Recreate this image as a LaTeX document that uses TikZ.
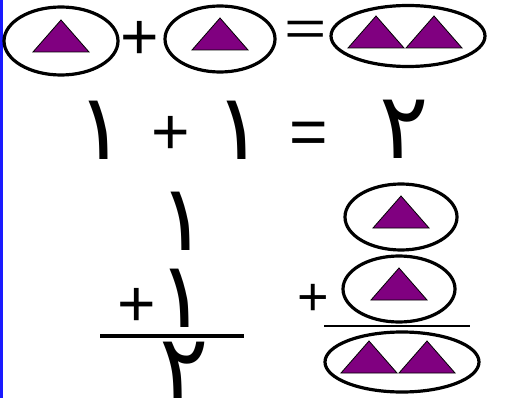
\documentclass[tikz,border=0pt]{standalone}
\usepackage{fontspec}
\setmainfont{Liberation Sans}
\newfontfamily\arabicfont[Script=Arabic]{DejaVu Sans}
\TeXXeTstate=1
\usepackage{xcolor}
\definecolor{SetPurple}{HTML}{800080}
\definecolor{SetEdge}{HTML}{1A1AFF}
\usetikzlibrary{shapes.geometric}

\begin{document}
\begin{tikzpicture}[
  x=1pt,y=-1pt,
  bag/.style={ellipse,draw,line width=3.2pt,inner sep=0pt,minimum width=112pt,minimum height=66pt},
  pair/.style={bag,minimum width=154pt,minimum height=61pt},
  digit/.style={inner sep=0pt,font=\arabicfont\fontsize{92}{98}\selectfont},
  sign/.style={inner sep=0pt,font=\fontsize{66}{72}\selectfont},
  small sign/.style={inner sep=0pt,font=\fontsize{54}{60}\selectfont},
  tri/.pic={\draw[fill=SetPurple,line width=0.8pt] (-28,0) -- (0,-32) -- (28,0) -- cycle;}
]
  \useasboundingbox (0,0) rectangle (516,398);
  \fill[SetEdge] (0,0) rectangle (2.5,398);
  % top row
  \node[bag,minimum width=114pt,minimum height=68pt] (e1) at (61,41) {};
  \node[sign] (plus1) at (140,40) {+};
  \node[bag,minimum width=110pt] (e2) at (220,39) {};
  \node[sign,transform shape,xscale=1.1,yscale=0.75] (eq1) at (306,33) {=};
  \node[pair] (e3) at (408,36) {};
  \pic at ([yshift=-11pt]e1.center) {tri};
  \pic at ([yshift=-11pt]e2.center) {tri};
  \pic at ([shift={(-32pt,-12pt)}]e3.center) {tri};
  \pic at ([shift={(26pt,-12pt)}]e3.center) {tri};
  % digits row
  \node[digit] (one1) at (101,130) {\beginR ١\endR};
  \node[sign] (plus2) at (171,135) {+};
  \node[digit] (one2) at (239,130) {\beginR ١\endR};
  \node[sign] (eq2) at (309,138) {=};
  \node[digit] (two1) at (404,129) {\beginR ٢\endR};
  % column sum
  \node[digit] (one3) at (183,221) {\beginR ١\endR};
  \node[sign] (plus3) at (137,307) {+};
  \node[digit] (one4) at (182,298) {\beginR ١\endR};
  \draw[line width=4pt] (100,336) -- (244,336);
  \node[digit] (two2) at (184,371) {\beginR ٢\endR};
  % column of sets
  \node[bag] (e4) at (401,217) {};
  \node[small sign] (plus4) at (313,300) {+};
  \node[bag] (e5) at (399,289) {};
  \draw[line width=1.8pt] (324,326) -- (470,326);
  \node[pair,minimum height=60pt] (e6) at (402,362) {};
  \pic at ([yshift=-11pt]e4.center) {tri};
  \pic at ([yshift=-11pt]e5.center) {tri};
  \pic at ([shift={(-33pt,-11pt)}]e6.center) {tri};
  \pic at ([shift={(25pt,-11pt)}]e6.center) {tri};
\end{tikzpicture}
\end{document}
